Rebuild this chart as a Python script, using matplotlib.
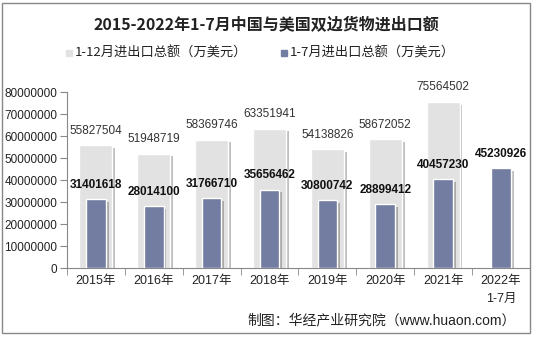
import matplotlib.pyplot as plt
import matplotlib.patheffects as pe
import numpy as np
from matplotlib.patches import Rectangle

plt.rcParams["font.family"] = ["Liberation Sans", "Noto Sans CJK SC", "DejaVu Sans"]

YEARS = ["2015年", "2016年", "2017年", "2018年", "2019年", "2020年", "2021年", "2022年\n1-7月"]
FULL_YEAR = [55827504, 51948719, 58369746, 63351941, 54138826, 58672052, 75564502, None]
JAN_JUL = [31401618, 28014100, 31766710, 35656462, 30800742, 28899412, 40457230, 45230926]
Y_TICKS = [0, 10000000, 20000000, 30000000, 40000000, 50000000, 60000000, 70000000, 80000000]

GRAY = "#e1e2e1"
BLUE = "#737ca1"
AXIS = "#888888"
CJK = ["Noto Sans CJK SC", "DejaVu Sans"]

fig = plt.figure(figsize=(5.33, 3.37), dpi=100)
ax = fig.add_axes([0.1257, 0.2047, 0.8685, 0.5223])

x = np.arange(len(YEARS))
shadow = [pe.SimplePatchShadow(offset=(2, -2), shadow_rgbFace="#000000", alpha=0.25), pe.Normal()]

full_x = [i for i, v in zip(x, FULL_YEAR) if v is not None]
full_v = [v for v in FULL_YEAR if v is not None]
gbars = ax.bar(full_x, full_v, width=0.57, color=GRAY, edgecolor="white", linewidth=1, zorder=2)
bbars = ax.bar(x, JAN_JUL, width=0.34, color=BLUE, edgecolor="white", linewidth=1, zorder=3)
for b in list(gbars) + list(bbars):
    b.set_path_effects(shadow)

for xi, v in zip(full_x, full_v):
    ax.annotate(f"{v}", (xi, v), xytext=(0, 6), textcoords="offset points",
                ha="center", va="bottom", fontsize=8.5, color="#333333", zorder=5,
                annotation_clip=False)
for xi, v in zip(x, JAN_JUL):
    ax.annotate(f"{v}", (xi, v), xytext=(0, 6), textcoords="offset points",
                ha="center", va="bottom", fontsize=8.5, fontweight="bold", color="#111111",
                zorder=5, annotation_clip=False)

ax.set_xlim(-0.5, len(YEARS) - 0.5)
ax.set_ylim(0, 80000000)
ax.set_yticks(Y_TICKS)
ax.set_yticklabels([str(t) for t in Y_TICKS])
ax.set_xticks(x)
ax.set_xticklabels(YEARS)
ax.set_xticks(np.arange(-0.5, len(YEARS), 1), minor=True)
ax.tick_params(axis="x", which="major", length=0, pad=5, labelsize=9, colors="#222222")
ax.tick_params(axis="x", which="minor", length=5, color=AXIS)
ax.tick_params(axis="y", length=5, color=AXIS, labelsize=8.5, labelcolor="#222222", pad=2)
for s in ["top", "right"]:
    ax.spines[s].set_visible(False)
ax.spines["left"].set_color(AXIS)
ax.spines["bottom"].set_color(AXIS)
for lbl in ax.get_xticklabels():
    lbl.set_linespacing(1.7)
    lbl.set_va("top")

fig.text(0.5, 0.925, "2015-2022年1-7月中国与美国双边货物进出口额", ha="center", va="center",
         fontsize=11.5, fontweight="bold", color="#222222", family=CJK)

# legend
fig.patches.append(Rectangle((0.124, 0.834), 0.011, 0.017, transform=fig.transFigure,
                             color=GRAY, zorder=3))
fig.text(0.14, 0.842, "1-12月进出口总额（万美元）", ha="left", va="center", fontsize=9.5,
         color="#222222", family=CJK)
fig.patches.append(Rectangle((0.528, 0.834), 0.011, 0.017, transform=fig.transFigure,
                             color=BLUE, zorder=3))
fig.text(0.544, 0.842, "1-7月进出口总额（万美元）", ha="left", va="center", fontsize=9.5,
         color="#222222", family=CJK)

fig.text(0.968, 0.05, "制图：华经产业研究院（www.huaon.com）", ha="right", va="center",
         fontsize=10, color="#222222", family=["Liberation Sans", "Noto Sans CJK SC"])

fig.patches.append(Rectangle((0.004, 0.012), 0.99, 0.98, transform=fig.transFigure,
                             fill=False, edgecolor=AXIS, linewidth=1))

fig.savefig("out.png", dpi=100)
